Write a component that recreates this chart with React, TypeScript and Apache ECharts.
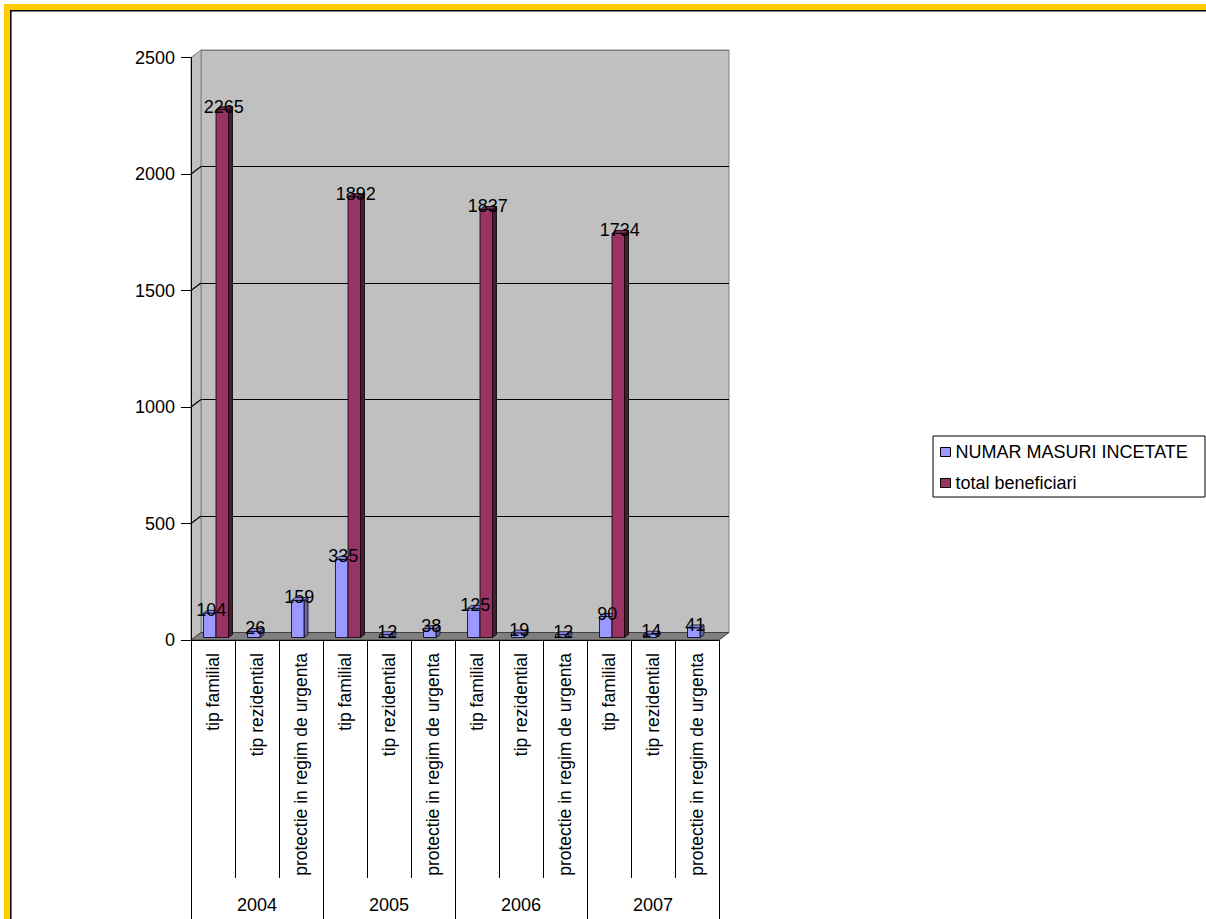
import React, { useEffect, useRef } from "react";
import * as echarts from "echarts";

// ---------- data ----------
const subCategories = ["tip familial", "tip rezidential", "protectie in regim de urgenta"];
const years = ["2004", "2005", "2006", "2007"];
const categories = years.flatMap(() => subCategories);
const seriesNames = ["NUMAR MASURI INCETATE", "total beneficiari"];
const masuriIncetate = [104, 26, 159, 335, 12, 38, 125, 19, 12, 90, 14, 41];
const totalBeneficiari = [2265, null, null, 1892, null, null, 1837, null, null, 1734, null, null];
const yMin = 0;
const yMax = 2500;
const yInterval = 500;
const yTicks = [0, 500, 1000, 1500, 2000, 2500];

// ---------- layout / style ----------
const FONT = "'Liberation Sans', Arial, sans-serif";
const FRONT_LEFT = 191;
const FRONT_TOP = 57.5;
const PLOT_W = 528;
const PLOT_H = 582.5;
const DEPTH_X = 10;
const DEPTH_Y = 7.5;
const BAR_W = 12.5;
const BAR_SHIFT_X = 3;
const BAR_SHIFT_Y = 2.5;
const BD_X = 4;
const BD_Y = 3;

const COLORS = [
  { face: "#9999FF", side: "#6666B8", top: "#8A8AEE" },
  { face: "#993366", side: "#4D1933", top: "#7A2952" },
];

function yFront(v: number) {
  return FRONT_TOP + PLOT_H - ((v - yMin) / (yMax - yMin)) * PLOT_H;
}

function makeBarRender(sIdx: number) {
  const c = COLORS[sIdx];
  return (_params: any, api: any) => {
    const idx = api.value(0);
    const val = api.value(1);
    const base = api.coord([idx, 0]);
    const tip = api.coord([idx, val]);
    const x0 = base[0] - BAR_W + sIdx * BAR_W + BAR_SHIFT_X;
    const yb = base[1] - BAR_SHIFT_Y;
    const yt = tip[1] - BAR_SHIFT_Y;
    const x1 = x0 + BAR_W;
    const st = { stroke: "#000", lineWidth: 0.8 };
    return {
      type: "group",
      children: [
        {
          type: "polygon",
          shape: { points: [[x1, yt], [x1 + BD_X, yt - BD_Y], [x1 + BD_X, yb - BD_Y], [x1, yb]] },
          style: { fill: c.side, ...st },
        },
        {
          type: "polygon",
          shape: { points: [[x0, yt], [x0 + BD_X, yt - BD_Y], [x1 + BD_X, yt - BD_Y], [x1, yt]] },
          style: { fill: c.top, ...st },
        },
        {
          type: "rect",
          shape: { x: x0, y: yt, width: BAR_W, height: Math.max(0.5, yb - yt) },
          style: { fill: c.face, ...st },
        },
      ],
    };
  };
}

function makeLabelRender(sIdx: number) {
  return (_params: any, api: any) => {
    const idx = api.value(0);
    const val = api.value(1);
    const tip = api.coord([idx, val]);
    const x0 = tip[0] - BAR_W + sIdx * BAR_W + BAR_SHIFT_X;
    const yt = tip[1] - BAR_SHIFT_Y;
    return {
      type: "text",
      style: {
        text: String(val),
        x: x0 + BAR_W / 2 + 1.5,
        y: yt - 3,
        align: "center",
        verticalAlign: "middle",
        fontSize: 18,
        fontFamily: FONT,
        fill: "#000",
      },
    };
  };
}

function toData(arr: (number | null)[]) {
  const out: number[][] = [];
  arr.forEach((v, i) => {
    if (v !== null && v !== undefined) out.push([i, v]);
  });
  return out;
}

export default function App() {
  const ref = useRef<HTMLDivElement>(null);

  useEffect(() => {
    if (!ref.current) return;
    const chart = echarts.init(ref.current, null, { renderer: "svg" });

    const sideDiagonals = yTicks.slice(1, -1).map((v) => ({
      type: "line",
      z: 1,
      shape: { x1: FRONT_LEFT, y1: yFront(v), x2: FRONT_LEFT + DEPTH_X, y2: yFront(v) - DEPTH_Y },
      style: { stroke: "#000", lineWidth: 1.2 },
    }));

    const fb = FRONT_TOP + PLOT_H;
    const graphics: any[] = [
      // left side wall
      {
        type: "polygon",
        z: 1,
        shape: {
          points: [
            [FRONT_LEFT, FRONT_TOP],
            [FRONT_LEFT + DEPTH_X, FRONT_TOP - DEPTH_Y],
            [FRONT_LEFT + DEPTH_X, fb - DEPTH_Y],
            [FRONT_LEFT, fb],
          ],
        },
        style: { fill: "#C0C0C0", stroke: "#808080", lineWidth: 1 },
      },
      ...sideDiagonals,
      // floor
      {
        type: "polygon",
        z: 1,
        shape: {
          points: [
            [FRONT_LEFT, fb],
            [FRONT_LEFT + PLOT_W, fb],
            [FRONT_LEFT + PLOT_W + DEPTH_X, fb - DEPTH_Y],
            [FRONT_LEFT + DEPTH_X, fb - DEPTH_Y],
          ],
        },
        style: { fill: "#808080", stroke: "#404040", lineWidth: 1 },
      },
      // legend box
      {
        type: "rect",
        z: 0,
        shape: { x: 933, y: 436, width: 272, height: 61 },
        style: { fill: "#fff", stroke: "#000", lineWidth: 1 },
      },
      // outer frame
      {
        type: "rect",
        z: 10,
        shape: { x: 7, y: 7, width: 1300, height: 1000 },
        style: { fill: "none", stroke: "#FFCC00", lineWidth: 6 },
      },
      {
        type: "rect",
        z: 10,
        shape: { x: 10.8, y: 10.8, width: 1300, height: 1000 },
        style: { fill: "none", stroke: "#000", lineWidth: 1.5 },
      },
    ];

    chart.setOption({
      animation: false,
      backgroundColor: "#fff",
      grid: [
        {
          left: FRONT_LEFT,
          top: FRONT_TOP,
          width: PLOT_W,
          height: PLOT_H,
          containLabel: false,
          outerBoundsMode: "none",
        },
        {
          left: FRONT_LEFT + DEPTH_X,
          top: FRONT_TOP - DEPTH_Y,
          width: PLOT_W,
          height: PLOT_H,
          show: true,
          backgroundColor: "#C0C0C0",
          borderColor: "#808080",
          borderWidth: 1,
          containLabel: false,
          outerBoundsMode: "none",
        },
      ],
      xAxis: [
        {
          type: "category",
          gridIndex: 0,
          data: categories,
          position: "bottom",
          z: 5,
          axisLine: { show: true, lineStyle: { color: "#000", width: 1 } },
          axisTick: { show: true, length: 238, interval: 0, lineStyle: { color: "#000", width: 1 } },
          axisLabel: {
            interval: 0,
            rotate: 90,
            margin: 13,
            fontSize: 17.5,
            fontFamily: FONT,
            color: "#000",
          },
        },
        {
          type: "category",
          gridIndex: 0,
          data: years,
          position: "bottom",
          z: 5,
          axisLine: { show: false },
          axisTick: { show: true, length: 300, interval: 0, lineStyle: { color: "#000", width: 1 } },
          axisLabel: {
            interval: 0,
            margin: 256,
            fontSize: 18,
            fontFamily: FONT,
            color: "#000",
          },
        },
        {
          type: "category",
          gridIndex: 1,
          data: categories,
          show: false,
        },
      ],
      yAxis: [
        {
          type: "value",
          gridIndex: 0,
          min: yMin,
          max: yMax,
          interval: yInterval,
          z: 5,
          axisLine: { show: true, lineStyle: { color: "#000", width: 1 } },
          axisTick: { show: true, length: 10, lineStyle: { color: "#000", width: 1 } },
          axisLabel: {
            margin: 16,
            fontSize: 18,
            fontFamily: FONT,
            color: "#000",
            formatter: (v: number) => String(v),
          },
          splitLine: { show: false },
        },
        {
          type: "value",
          gridIndex: 1,
          min: yMin,
          max: yMax,
          interval: yInterval,
          axisLine: { show: false },
          axisTick: { show: false },
          axisLabel: { show: false },
          splitLine: {
            show: true,
            lineStyle: { color: ["#404040", "#000", "#000", "#000", "#000", "#808080"], width: 1.2 },
          },
        },
      ],
      legend: {
        orient: "vertical",
        left: 940,
        top: 442,
        padding: 0,
        itemWidth: 10,
        itemHeight: 9,
        itemGap: 11,
        selectedMode: false,
        textStyle: { fontSize: 18, fontFamily: FONT, color: "#000", lineHeight: 20 },
        data: [
          { name: seriesNames[0], icon: "rect", itemStyle: { color: COLORS[0].face, borderColor: "#000", borderWidth: 1 } },
          { name: seriesNames[1], icon: "rect", itemStyle: { color: COLORS[1].face, borderColor: "#000", borderWidth: 1 } },
        ],
        z: 6,
      },
      graphic: graphics,
      series: [
        {
          type: "custom",
          name: seriesNames[0],
          xAxisIndex: 0,
          yAxisIndex: 0,
          z: 2,
          itemStyle: { color: COLORS[0].face },
          renderItem: makeBarRender(0),
          data: toData(masuriIncetate),
        },
        {
          type: "custom",
          name: seriesNames[1],
          xAxisIndex: 0,
          yAxisIndex: 0,
          z: 2,
          itemStyle: { color: COLORS[1].face },
          renderItem: makeBarRender(1),
          data: toData(totalBeneficiari),
        },
        {
          type: "custom",
          name: "labels0",
          xAxisIndex: 0,
          yAxisIndex: 0,
          z: 4,
          renderItem: makeLabelRender(0),
          data: toData(masuriIncetate),
        },
        {
          type: "custom",
          name: "labels1",
          xAxisIndex: 0,
          yAxisIndex: 0,
          z: 4,
          renderItem: makeLabelRender(1),
          data: toData(totalBeneficiari),
        },
      ],
    });

    return () => chart.dispose();
  }, []);

  return (
    <div
      ref={ref}
      style={{ position: "fixed", left: 0, top: 0, width: 1206, height: 919, background: "#fff" }}
    />
  );
}
